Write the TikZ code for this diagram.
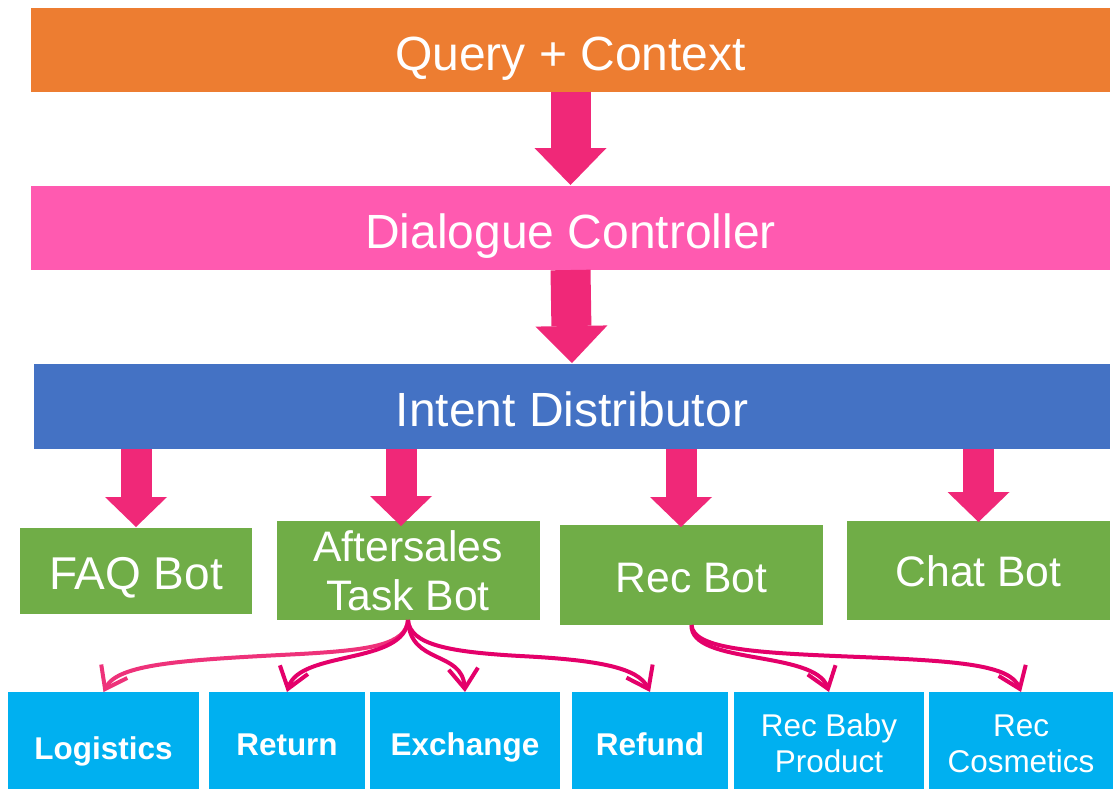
\documentclass[tikz,border=0pt]{standalone}
\usepackage{fontspec}
\setmainfont{Liberation Sans}
\usetikzlibrary{arrows.meta,calc}

\definecolor{qcorange}{RGB}{237,125,49}
\definecolor{dcpink}{RGB}{255,90,176}
\definecolor{idblue}{RGB}{68,114,196}
\definecolor{botgreen}{RGB}{112,173,71}
\definecolor{subcyan}{RGB}{0,176,240}
\definecolor{flowpink}{RGB}{240,40,120}
\definecolor{linkpink}{RGB}{238,50,122}
\definecolor{linkmag}{RGB}{228,0,106}

% taller first line, so a two-line label sits a little lower in its box
\newcommand{\tallline}{\rule{0pt}{21.7pt}}

\begin{document}
\begin{tikzpicture}[x=0.75pt,y=-0.75pt,
  box/.style={inner sep=0pt, outer sep=0pt, text=white},
  stage/.style={box, minimum height=63pt, font=\fontsize{36}{40}\selectfont,
    text height=30.3pt, text depth=0pt},
  bot/.style={box, fill=botgreen, minimum width=197.25pt, minimum height=74.25pt,
    font=\fontsize{32}{37}\selectfont},
  sub/.style={box, fill=subcyan, minimum height=72.75pt,
    font=\fontsize{23.6}{27}\selectfont},
  subbold/.style={sub, font=\fontsize{23.6}{27}\selectfont\bfseries,
    text height=22.2pt, text depth=0pt},
  bigflow/.style={draw=flowpink, line width=30pt,
    -{Triangle[length=27.75pt,width=54pt,line width=0pt]}},
  smallflow/.style={draw=flowpink, line width=23.25pt,
    -{Triangle[length=22.5pt,width=46.5pt,line width=0pt]}},
  link/.style={line width=3pt, -{Straight Barb[length=15pt,width=22pt]}}
]
\useasboundingbox[fill=white] (0,0) rectangle (1113,789);

% pipeline stages
\node[stage, fill=qcorange, minimum width=809.25pt] (qc) at (570.5,50) {Query + Context};
\node[stage, fill=dcpink, minimum width=809.25pt] (dc) at (570.5,228) {Dialogue Controller};
\node[stage, fill=idblue, minimum width=807pt, minimum height=63.75pt] (id) at (572,406.5) {Intent Distributor};

% bots
\node[bot, minimum width=174pt, minimum height=64.5pt, font=\fontsize{34.5}{40}\selectfont,
  text height=27.7pt, text depth=0pt] (faq) at (136,571) {FAQ Bot};
\node[bot, align=center] (after) at (408,570.5) {Aftersales\\Task Bot};
\node[bot, minimum height=75pt, text height=25.9pt, text depth=0pt] (rec) at (691.5,575) {Rec Bot};
\node[bot, text height=24.4pt, text depth=0pt] (chat) at (978.5,570.5) {Chat Bot};

% sub-tasks
\node[subbold, minimum width=143.25pt, text height=28.1pt] (log) at (103.5,740.5) {Logistics};
\node[subbold, minimum width=117pt] (ret) at (287,740.5) {Return};
\node[subbold, minimum width=142.5pt] (exch) at (465,740.5) {Exchange};
\node[subbold, minimum width=117pt] (ref) at (650,740.5) {Refund};
\node[sub, minimum width=142.5pt, align=center] (baby) at (829,740.5) {\tallline Rec Baby\\Product};
\node[sub, minimum width=137.6pt, align=center] (cosm) at (1021,740.5) {\tallline Rec\\Cosmetics};

% main flow
\draw[bigflow] (qc.south) -- ($(dc.north)+(0,-1)$);
\draw[bigflow] (dc.south) -- ($(id.north)+(0,-1)$);

% distribution to bots
\draw[smallflow] (id.south -| faq.north) -- ($(faq.north)+(0,-1)$);
\draw[smallflow] ($(id.south -| after.north)+(-7,0)$) -- ($(after.north)+(-7,5)$);
\draw[smallflow] ($(id.south -| rec.north)+(-10.5,0)$) -- ($(rec.north)+(-10.5,2)$);
\draw[smallflow] (id.south -| chat.north) -- ($(chat.north)+(0,1)$);

% aftersales task routing
\draw[link, draw=linkpink] (after.south) .. controls (406,645) and (370,650) .. (300,654)
  .. controls (180,660) and (118,664) .. (log.north);
\draw[link, draw=linkmag] (after.south) .. controls (405,665) and (300,650) .. (ret.north);
\draw[link, draw=linkmag] (after.south) .. controls (410,665) and (462,650) .. (exch.north);
\draw[link, draw=linkmag] (after.south) .. controls (410,645) and (450,652) .. (520,656)
  .. controls (600,660) and (638,668) .. (ref.north);

% recommendation routing
\draw[link, draw=linkmag] (rec.south) .. controls (690,665) and (815,650) .. (baby.north);
\draw[link, draw=linkmag] (rec.south) .. controls (693,650) and (760,653) .. (860,657)
  .. controls (960,661) and (1010,665) .. (cosm.north);
\end{tikzpicture}
\end{document}
